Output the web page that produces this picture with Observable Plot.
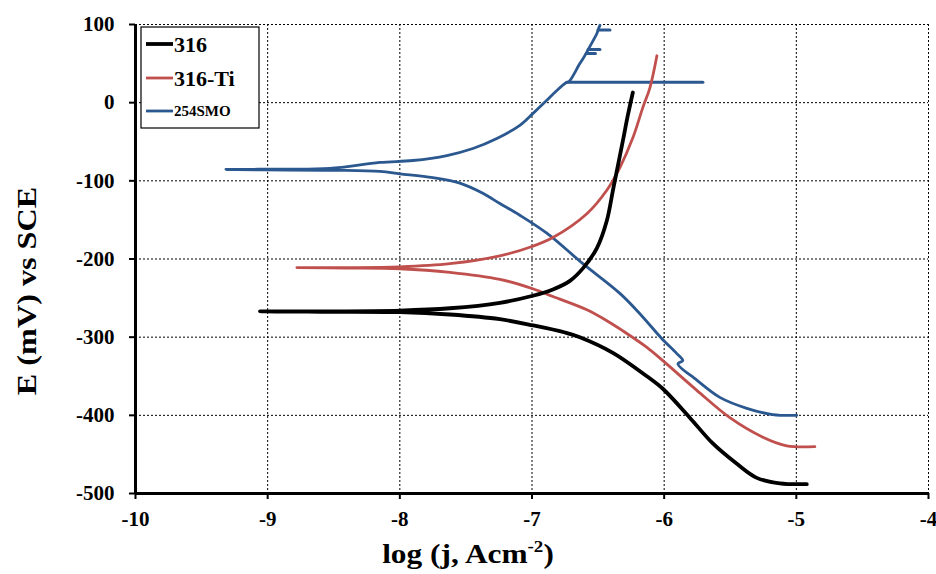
<!DOCTYPE html>
<html>
<head>
<meta charset="utf-8">
<script src="https://cdn.jsdelivr.net/npm/d3@7"></script>
<script src="https://cdn.jsdelivr.net/npm/@observablehq/plot@0.6"></script>
<style>
  html, body { margin: 0; padding: 0; background: #fff; }
  #chart svg { display: block; }
  #chart svg text { font-family: "Liberation Serif", "Times New Roman", serif !important; font-weight: bold; }
</style>
</head>
<body>
<div id="chart"></div>
<script>
// ---- Data (log j [A/cm2], E [mV vs SCE]) : cathodic end -> Ecorr -> anodic end ----
const seriesNames = ["316", "316-Ti", "254SMO"];
const seriesColors = ["#000000", "#c0504d", "#2c5890"];

const s316_logj = [-4.921, -5.125, -5.299, -5.45, -5.632, -5.806, -6.010, -6.131, -6.388, -6.638, -6.75, -6.99, -7.243, -7.621, -8.0, -8.6, -9.058,
                   -8.6, -8.0, -7.621, -7.243, -6.994, -6.842, -6.713, -6.615, -6.509, -6.434, -6.388, -6.350, -6.312, -6.275, -6.237];
const s316_E    = [-488, -487, -480, -462, -436, -403, -366, -350, -320, -300, -294, -285, -277, -271, -268, -267.5, -267,
                   -267, -266, -263, -256, -247, -239, -228, -212, -186, -151, -112.5, -80.4, -48.4, -16.4, 13];

const s316Ti_logj = [-4.86, -5.072, -5.253, -5.503, -5.753, -6.010, -6.131, -6.312, -6.434, -6.585, -6.842, -6.994, -7.243, -7.621, -8.0, -8.4, -8.779,
                     -8.4, -8.0, -7.621, -7.243, -7.0, -6.842, -6.585, -6.434, -6.335, -6.237, -6.161, -6.108, -6.055];
const s316Ti_E    = [-440, -439, -428, -403, -368, -330, -313, -292, -279, -265, -248, -238, -226, -217, -212.5, -211.5, -211,
                     -211, -210, -206, -196, -184, -172.5, -142, -112, -83, -45, -6, 19, 60];

// main 254SMO trace
const s254_logj = [-4.997, -5.178, -5.375, -5.579, -5.753, -5.896, -5.859, -5.904, -6.017, -6.184, -6.335, -6.615, -6.888, -7.092, -7.243, -7.372, -7.546, -7.75, -8.0, -8.151, -8.5, -9.316,
                   -8.9, -8.53, -8.151, -7.901, -7.644, -7.447, -7.266, -7.092, -6.994, -6.888, -6.812, -6.737,
                   -6.72, -6.638, -6.59, -6.575, -6.509, -6.50, -6.486];
const s254_E    = [-400, -399, -391, -377, -355, -334, -330, -321, -302, -270, -244, -206, -167, -144, -129, -116, -103, -96, -91, -88, -86.5, -85.5,
                   -85, -84, -76.5, -74, -67.6, -58.6, -45.8, -29, -14, 3, 15.6, 26,
                   27, 50, 63, 68, 88.5, 93, 99];
// 254SMO current spikes (start / end of each excursion)
const s254Spike_id   = [1, 1, 2, 2, 3, 3, 4, 4];
const s254Spike_logj = [-6.737, -5.707, -6.59, -6.52, -6.575, -6.486, -6.50, -6.41];
const s254Spike_E    = [26, 26, 63, 63, 68, 68, 93, 93];

const xTicks = [-10, -9, -8, -7, -6, -5, -4];
const yTicks = [-500, -400, -300, -200, -100, 0, 100];

// ---- build tidy table ----
function rows(name, xs, ys) { return xs.map((x, i) => ({series: name, logj: x, E: ys[i]})); }
const data = [
  ...rows("316", s316_logj, s316_E),
  ...rows("316-Ti", s316Ti_logj, s316Ti_E),
  ...rows("254SMO", s254_logj, s254_E)
];
const spikes = s254Spike_id.map((id, i) => ({series: "254SMO", id, logj: s254Spike_logj[i], E: s254Spike_E[i]}));

const W = 936, H = 574;
const fmt = d => String(d);
const chart = Plot.plot({
  width: W, height: H,
  marginLeft: 135, marginRight: 8, marginTop: 24, marginBottom: 81,
  style: {fontFamily: "Liberation Serif", fontWeight: "bold", fontSize: "21px", color: "#000", background: "#fff"},
  x: {domain: [-10, -4]},
  y: {domain: [-500, 100]},
  color: {domain: seriesNames, range: seriesColors},
  marks: [
    Plot.gridX(xTicks, {stroke: "#000", strokeOpacity: 1, strokeWidth: 1, strokeDasharray: "2,2"}),
    Plot.gridY(yTicks, {stroke: "#000", strokeOpacity: 1, strokeWidth: 1, strokeDasharray: "2,2"}),
    Plot.line(data.filter(d => d.series === "254SMO"), {x: "logj", y: "E", stroke: "series", strokeWidth: 2.8, curve: "catmull-rom"}),
    Plot.line(spikes, {x: "logj", y: "E", z: "id", stroke: "series", strokeWidth: 3, strokeLinecap: "round"}),
    Plot.line(data.filter(d => d.series === "316-Ti"), {x: "logj", y: "E", stroke: "series", strokeWidth: 2.8, curve: "catmull-rom"}),
    Plot.line(data.filter(d => d.series === "316"), {x: "logj", y: "E", stroke: "series", strokeWidth: 3.8, curve: "catmull-rom"}),
    Plot.ruleX([-10], {stroke: "#000", strokeWidth: 3}),
    Plot.ruleY([-500], {stroke: "#000", strokeWidth: 3}),
    Plot.axisX(xTicks, {tickSize: 6, tickPadding: 12, strokeWidth: 2, label: null, fontSize: 21, tickFormat: fmt}),
    Plot.axisY(yTicks, {tickSize: 6, tickPadding: 15, strokeWidth: 2, label: null, fontSize: 21, tickFormat: fmt})
  ]
});

const svg = d3.select(chart);
// Axis titles
svg.append("text")
  .attr("transform", "translate(468,563) scale(1.12,1)")
  .attr("text-anchor", "middle")
  .attr("font-size", 28)
  .call(t => {
    t.append("tspan").text("log (j, Acm");
    t.append("tspan").attr("font-size", 17).attr("dy", -11).text("-2");
    t.append("tspan").attr("dy", 11).text(")");
  });
svg.append("text")
  .attr("transform", "translate(36,291) rotate(-90) scale(1.15,1)")
  .attr("text-anchor", "middle")
  .attr("font-size", 28)
  .text("E (mV) vs SCE");

// Legend
const lg = svg.append("g");
lg.append("rect").attr("x", 141).attr("y", 27).attr("width", 118).attr("height", 101)
  .attr("fill", "#fff").attr("stroke", "#000").attr("stroke-width", 1.2);
const legY = [44, 78, 111];
const legSize = [22, 22, 15];
const legW = [3.8, 2.8, 2.8];
seriesNames.forEach((n, i) => {
  lg.append("line").attr("x1", 146).attr("x2", 173).attr("y1", legY[i]).attr("y2", legY[i])
    .attr("stroke", seriesColors[i]).attr("stroke-width", legW[i]);
  lg.append("text").attr("x", 174).attr("y", legY[i]).attr("dy", "0.35em")
    .attr("text-anchor", "start")
    .attr("font-size", legSize[i]).text(n);
});

document.getElementById("chart").appendChild(chart);
</script>
</body>
</html>
